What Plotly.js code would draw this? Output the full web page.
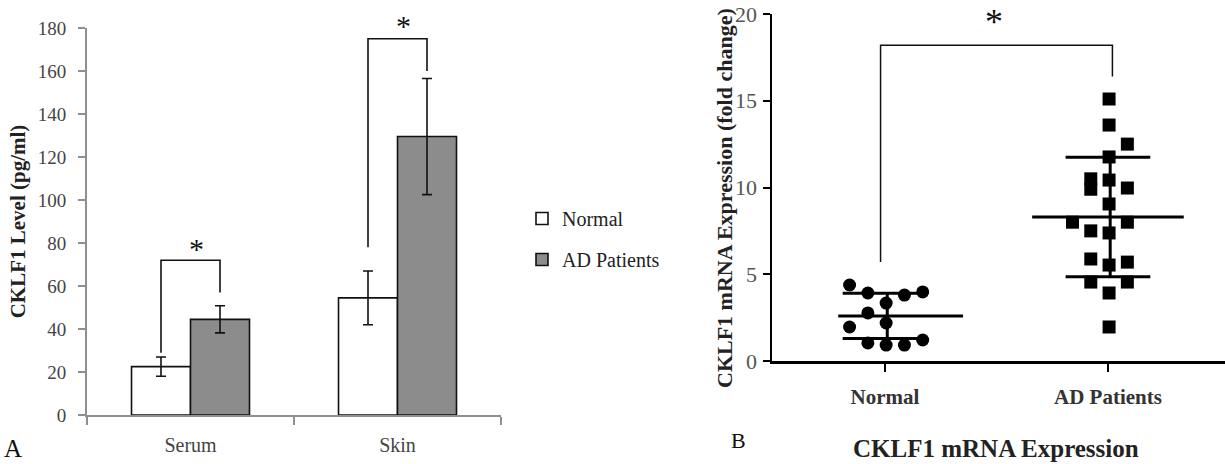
<!DOCTYPE html>
<html>
<head>
<meta charset="utf-8">
<script src="https://cdn.plot.ly/plotly-3.0.1.min.js"></script>
<style>html,body{margin:0;padding:0;background:#fff}#chart{width:1225px;height:464px}</style>
</head>
<body>
<div id="chart"></div>
<script>
// ---- Panel A data ----
const categories = ['Serum', 'Skin'];
const normalLevel = [22.5, 54.5];
const normalErr = [4.5, 12.5];
const adLevel = [44.5, 129.5];
const adErr = [6.3, 27];
const yTicksA = [0, 20, 40, 60, 80, 100, 120, 140, 160, 180];
// significance brackets (data units)
const sigTopA = [72, 175];
const sigLegNormalA = [29, 78];
const sigLegAdA = [57, 160];
const starYA = [80, 184];

// ---- Panel B data ----
const groups = ['Normal', 'AD Patients'];
const normalFold = [4.38, 3.92, 3.80, 3.98, 3.34, 2.77, 1.96, 2.19, 1.04, 0.92, 0.92, 1.21];
const normalSlot = [-2, -1, 1, 2, 0, -1, -2, 0, -1, 0, 1, 2];
const adFold = [15.1, 13.6, 12.5, 11.76, 10.5, 9.9, 10.43, 9.97, 9.05, 8.0, 8.0, 7.5, 7.38, 5.88, 5.7, 5.53, 4.55, 4.55, 3.92, 1.96];
const adSlot = [0, 0, 1, 0, -1, -1, 0, 1, 0, -2, 1, -1, 0, -1, 1, 0, -1, 1, 0, 0];
const groupMean = [2.6, 8.3];
const groupSD = [1.3, 3.45];
const yTicksB = [0, 5, 10, 15, 20];
const sigTopB = 18.2;
const sigLegB = [5.7, 16.4];

// ---- styles ----
const SERIF = 'Liberation Serif';
const GREY_AXIS = '#8f8f8f';
const bargap = 0.43;
const barW = (1 - bargap) / 2;
const slotStep = 0.082;
const yMaxA = 180, yMaxB = 20;
const pxPerUnitA = 387 / yMaxA;

const traces = [];
traces.push({
  type: 'bar', name: 'Normal', x: categories, y: normalLevel,
  xaxis: 'x', yaxis: 'y', legendgroup: 'n',
  marker: {color: '#ffffff', line: {color: '#111', width: 1.6}},
  error_y: {type: 'data', array: normalErr, visible: true, color: '#111', thickness: 1.6, width: 5},
  hoverinfo: 'none'
});
traces.push({
  type: 'bar', name: 'AD Patients', x: categories, y: adLevel,
  xaxis: 'x', yaxis: 'y', legendgroup: 'a',
  marker: {color: '#8c8c8c', line: {color: '#111', width: 1.6}},
  error_y: {type: 'data', array: adErr, visible: true, color: '#111', thickness: 1.6, width: 5},
  hoverinfo: 'none'
});

// Panel B mean / SD lines
const meanExt = [[-0.21, 0.35], [-0.34, 0.34]];
const sdExt = 0.19;
const lx = [], ly = [];
groups.forEach((g, i) => {
  const m = groupMean[i], s = groupSD[i];
  lx.push(i + meanExt[i][0], i + meanExt[i][1], null);
  ly.push(m, m, null);
  lx.push(i - sdExt, i + sdExt, null); ly.push(m + s, m + s, null);
  lx.push(i - sdExt, i + sdExt, null); ly.push(m - s, m - s, null);
  lx.push(i + 0.01, i + 0.01, null); ly.push(m - s, m + s, null);
});
traces.push({
  type: 'scatter', mode: 'lines', x: lx, y: ly, xaxis: 'x2', yaxis: 'y2',
  line: {color: '#000', width: 3}, showlegend: false, hoverinfo: 'none', connectgaps: false
});
traces.push({
  type: 'scatter', mode: 'markers', xaxis: 'x2', yaxis: 'y2', showlegend: false,
  x: normalSlot.map(s => 0 + s * slotStep + 0.005), y: normalFold,
  marker: {symbol: 'circle', size: 13, color: '#000'}, hoverinfo: 'none'
});
traces.push({
  type: 'scatter', mode: 'markers', xaxis: 'x2', yaxis: 'y2', showlegend: false,
  x: adSlot.map(s => 1 + s * slotStep + 0.005), y: adFold,
  marker: {symbol: 'square', size: 13, color: '#000'}, hoverinfo: 'none'
});

// shapes: significance brackets
const shapes = [];
categories.forEach((c, i) => {
  const xn = i - barW / 2, xa = i + barW / 2;
  shapes.push({type: 'path', xref: 'x', yref: 'y',
    path: `M${xn},${sigLegNormalA[i]} L${xn},${sigTopA[i]} L${xa},${sigTopA[i]} L${xa},${sigLegAdA[i]}`,
    line: {color: '#111', width: 1.6}});
});
shapes.push({type: 'path', xref: 'x2', yref: 'y2',
  path: `M-0.02,${sigLegB[0]} L-0.02,${sigTopB} L1.02,${sigTopB} L1.02,${sigLegB[1]}`,
  line: {color: '#111', width: 1.5}});

const annotations = [];
categories.forEach((c, i) => {
  const yv = Math.min(starYA[i], yMaxA);
  annotations.push({xref: 'x', yref: 'y', x: i + 0.03, y: yv, text: '*', showarrow: false,
    font: {family: SERIF, size: 30, color: '#111'}, yanchor: 'middle',
    yshift: -6 + (starYA[i] - yv) * pxPerUnitA});
});
// star above panel B bracket (anchored to the top edge so it is not clipped)
annotations.push({xref: 'x2', yref: 'paper', x: 0.49, y: 1, text: '*', showarrow: false,
  font: {family: SERIF, size: 36, color: '#111'}, yanchor: 'top', yshift: 0});
// panel B y-axis title
annotations.push({xref: 'paper', yref: 'paper', x: 724 / 1225, y: 1 - 198 / 464,
  text: 'CKLF1 mRNA Expression (fold change)', textangle: -90, showarrow: false,
  font: {family: SERIF, size: 22, color: '#222', weight: 'bold'}, xanchor: 'center', yanchor: 'middle'});
annotations.push({xref: 'paper', yref: 'paper', x: 13 / 1225, y: 1 - 448 / 464, text: 'A', showarrow: false,
  font: {family: SERIF, size: 25, color: '#111'}, xanchor: 'center', yanchor: 'middle'});
annotations.push({xref: 'paper', yref: 'paper', x: 738 / 1225, y: 1 - 440 / 464, text: 'B', showarrow: false,
  font: {family: SERIF, size: 22, color: '#111'}, xanchor: 'center', yanchor: 'middle'});
annotations.push({xref: 'paper', yref: 'paper', x: 996 / 1225, y: 1 - 448 / 464, text: 'CKLF1 mRNA Expression', showarrow: false,
  font: {family: SERIF, size: 25, color: '#222', weight: 'bold'}, xanchor: 'center', yanchor: 'middle'});

const layout = {
  width: 1225, height: 464,
  margin: {l: 0, r: 0, t: 0, b: 0},
  paper_bgcolor: '#fff', plot_bgcolor: '#fff',
  barmode: 'group', bargap: bargap, bargroupgap: 0,
  showlegend: true,
  legend: {x: 522 / 1225, y: 1 - 199 / 464, xanchor: 'left', yanchor: 'top',
    traceorder: 'grouped', tracegroupgap: 12, bgcolor: 'rgba(0,0,0,0)',
    font: {family: SERIF, size: 20, color: '#222'}},
  xaxis: {domain: [87 / 1225, 501 / 1225], type: 'category', showline: true, linecolor: GREY_AXIS, linewidth: 2,
    ticks: 'outside', tickson: 'boundaries', ticklen: 8, tickwidth: 2, tickcolor: GREY_AXIS,
    tickfont: {family: SERIF, size: 20, color: '#444'}, ticklabelstandoff: 11,
    showgrid: false, zeroline: false, fixedrange: true},
  yaxis: {domain: [1 - 415 / 464, 1 - 28 / 464], range: [0, yMaxA], tickvals: yTicksA,
    showline: true, linecolor: GREY_AXIS, linewidth: 2,
    ticks: 'outside', ticklen: 7, tickwidth: 2, tickcolor: GREY_AXIS,
    tickfont: {family: SERIF, size: 19, color: '#444'}, ticklabelstandoff: 8,
    showgrid: false, zeroline: false, fixedrange: true,
    title: {text: 'CKLF1 Level (pg/ml)', font: {family: SERIF, size: 21, color: '#222', weight: 'bold'}, standoff: 6}},
  xaxis2: {domain: [772 / 1225, 1], anchor: 'y2', range: [-0.507, 1.525], tickvals: [0, 1], ticktext: groups,
    showline: true, linecolor: '#000', linewidth: 2.5,
    ticks: 'outside', ticklen: 8, tickwidth: 2, tickcolor: '#000',
    tickfont: {family: SERIF, size: 21, color: '#333', weight: 'bold'}, ticklabelstandoff: 7,
    showgrid: false, zeroline: false, fixedrange: true},
  yaxis2: {domain: [1 - 361 / 464, 1 - 14 / 464], anchor: 'x2', range: [0, yMaxB], tickvals: yTicksB,
    showline: true, linecolor: '#000', linewidth: 2.5,
    ticks: 'outside', ticklen: 7, tickwidth: 2, tickcolor: '#000',
    tickfont: {family: SERIF, size: 22, color: '#555'}, ticklabelstandoff: 1,
    showgrid: false, zeroline: false, fixedrange: true},
  shapes: shapes,
  annotations: annotations
};

Plotly.newPlot('chart', traces, layout, {staticPlot: true, displayModeBar: false});
</script>
</body>
</html>
